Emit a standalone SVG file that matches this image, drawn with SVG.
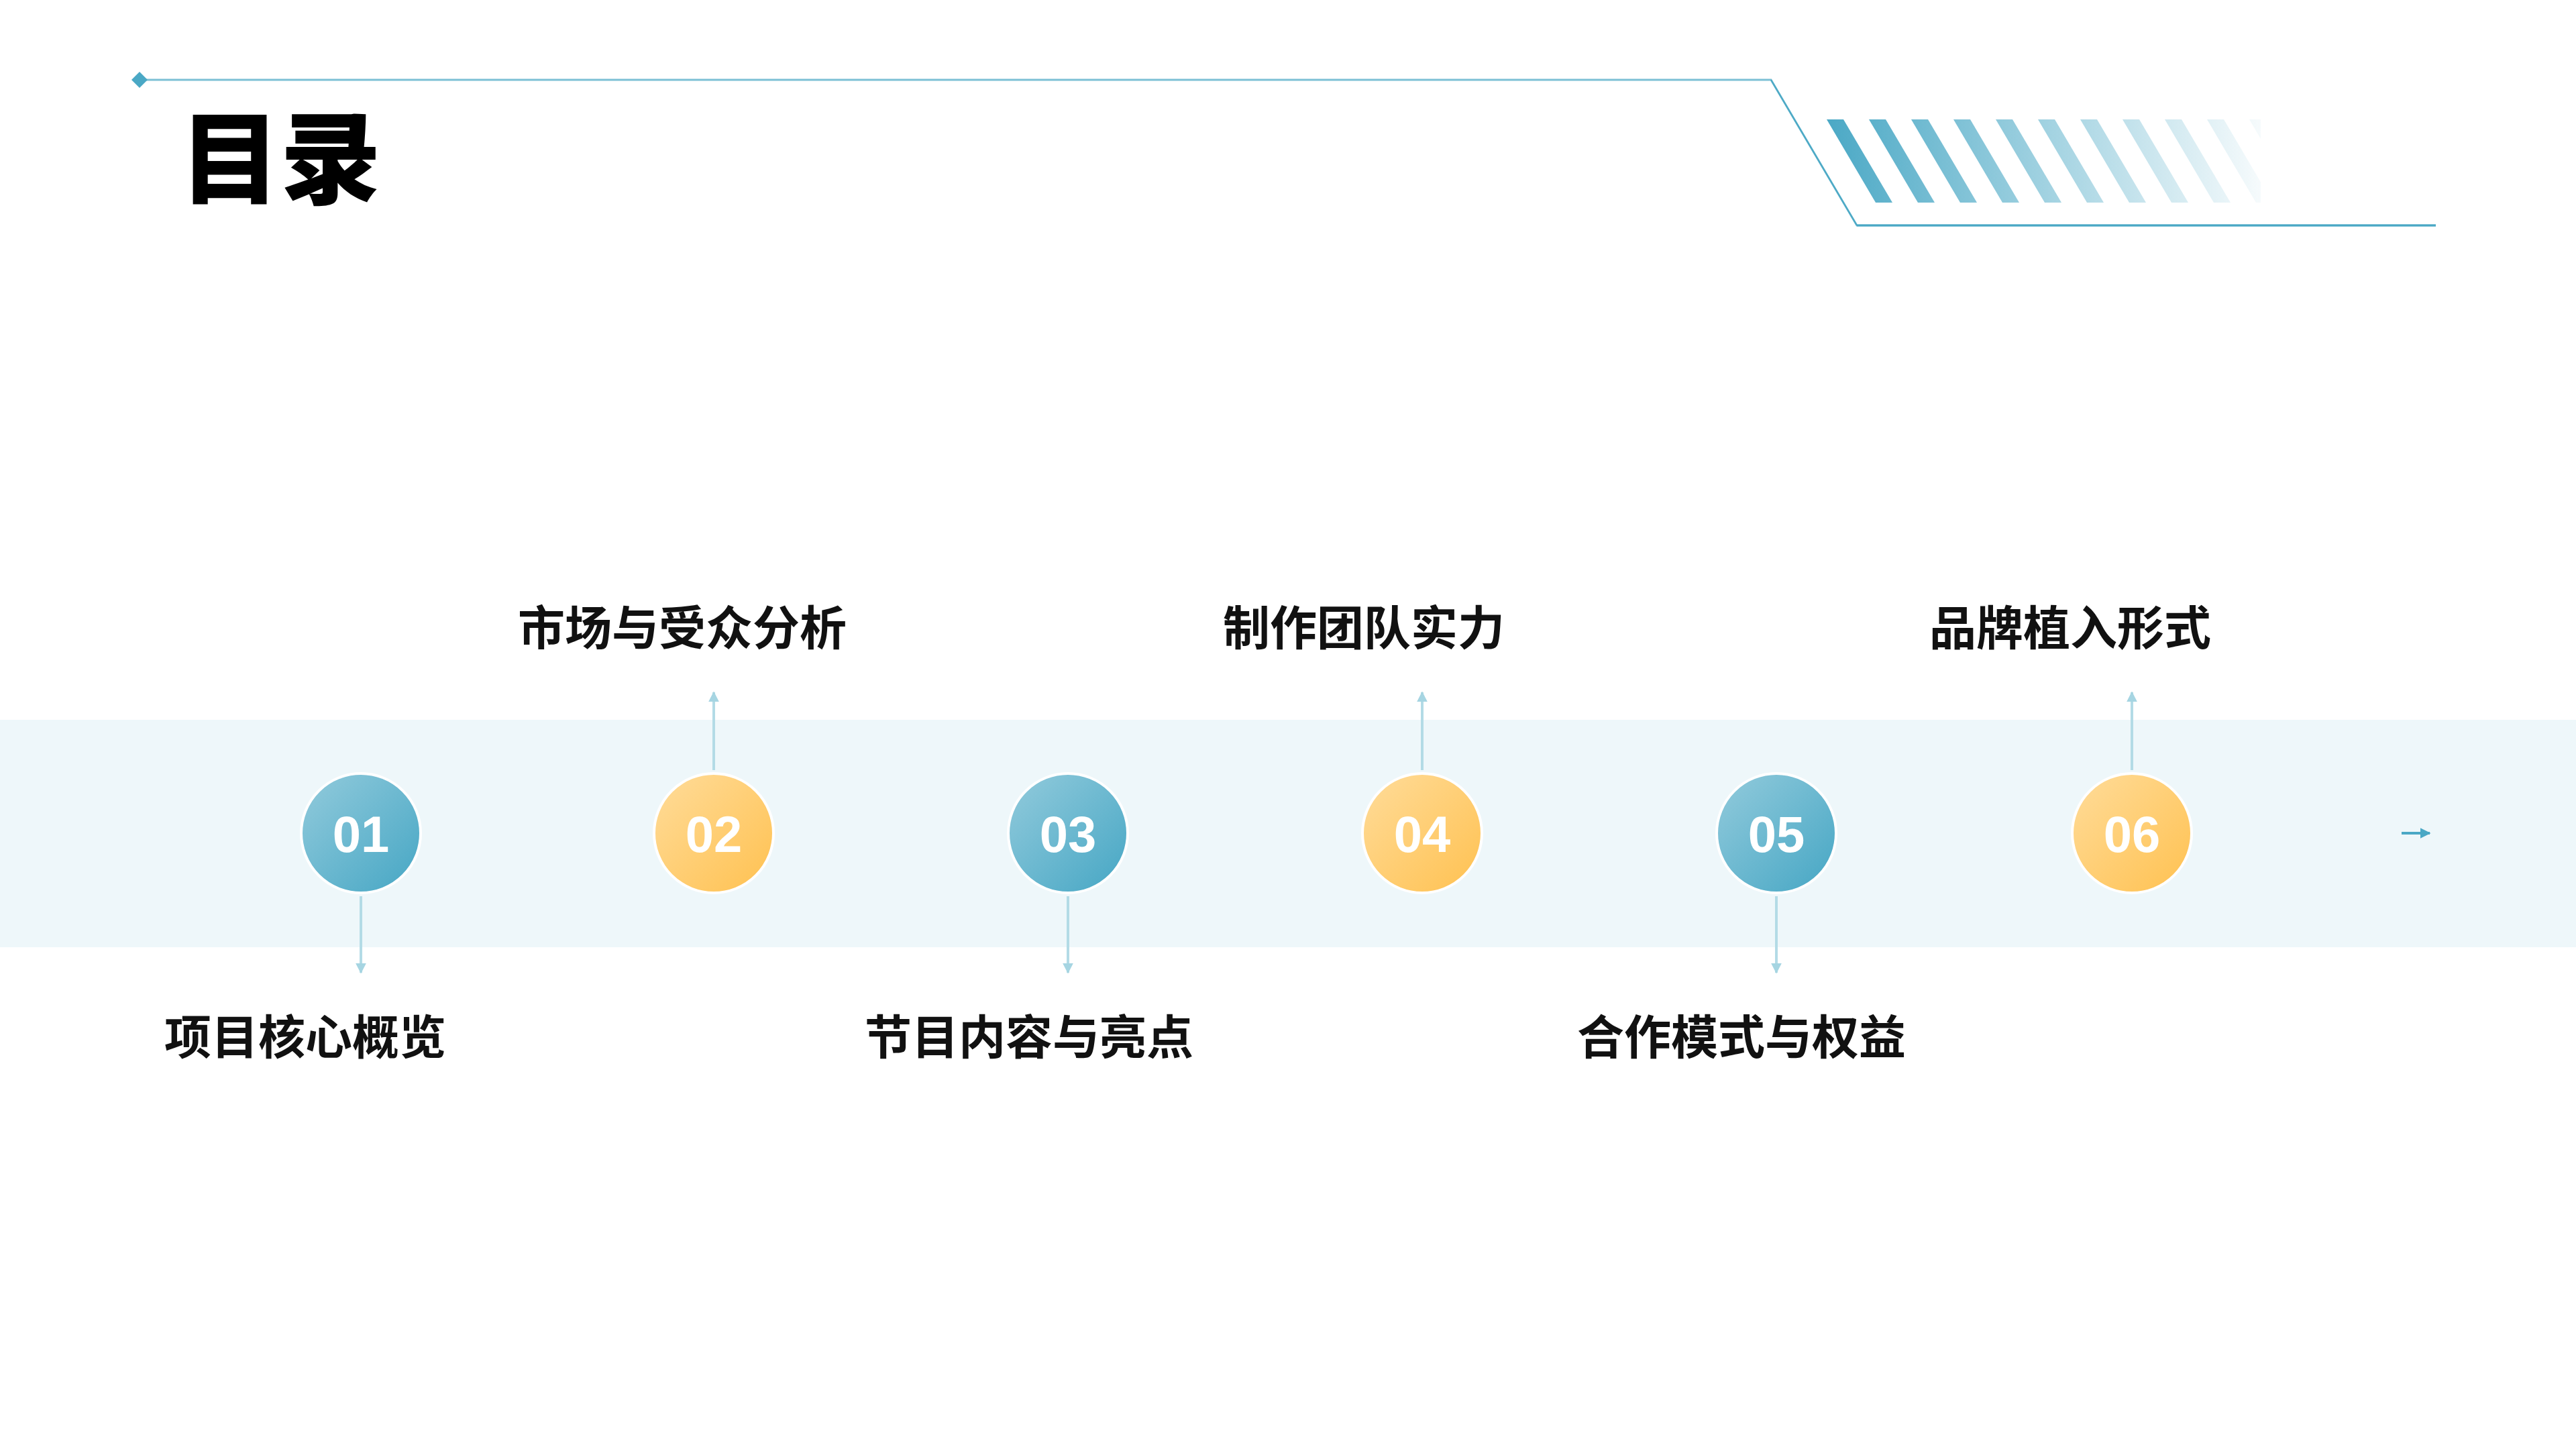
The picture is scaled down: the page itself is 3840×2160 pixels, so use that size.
<svg xmlns="http://www.w3.org/2000/svg" width="3840" height="2160" viewBox="0 0 3840 2160">
<defs>
<linearGradient id="gb" x1="0" y1="0" x2="1" y2="1"><stop offset="0" stop-color="#93cbdc"/><stop offset="1" stop-color="#45a6c4"/></linearGradient>
<linearGradient id="go" x1="0" y1="0" x2="1" y2="1"><stop offset="0" stop-color="#ffdc9a"/><stop offset="1" stop-color="#ffc150"/></linearGradient>
<linearGradient id="gl" x1="0" y1="0" x2="1" y2="0"><stop offset="0" stop-color="#e0f0f5"/><stop offset="1" stop-color="#a3d3e1"/></linearGradient>
<linearGradient id="gs" gradientUnits="userSpaceOnUse" x1="2720" y1="0" x2="3370" y2="0"><stop offset="0" stop-color="#4aa8c5"/><stop offset="1" stop-color="#4aa8c5" stop-opacity="0.05"/></linearGradient>
<clipPath id="cs"><rect x="2700" y="170" width="670" height="140"/></clipPath>
<marker id="ah" viewBox="0 0 10 10" refX="9" refY="5" markerWidth="4" markerHeight="4" orient="auto"><path d="M0,0 L10,5 L0,10 Z" fill="#a6d5e2"/></marker>
<marker id="ah2" viewBox="0 0 10 10" refX="9" refY="5" markerWidth="4" markerHeight="4" orient="auto"><path d="M0,0 L10,5 L0,10 Z" fill="#4aa8c5"/></marker>
</defs>
<style>
.lbl{font-family:"Noto Sans CJK SC","Noto Sans",sans-serif;font-weight:bold;font-size:70px;fill:#111;text-anchor:middle}
.num{font-family:"Liberation Sans",Arial,sans-serif;font-weight:bold;font-size:76px;fill:#fff;text-anchor:middle}
.v{stroke:#b3dbe6;stroke-width:4;fill:none;marker-end:url(#ah)}
</style>
<rect width="3840" height="2160" fill="#fff"/>
<g id="header">
<path d="M208,119 H2640 L2768,336 H3631" fill="none" stroke="#7cc0d5" stroke-width="3"/>
<path d="M2640,119 L2768,336" fill="none" stroke="#4aa8c5" stroke-width="2"/>
<path d="M2768,336 H3631" fill="none" stroke="#4aa8c5" stroke-width="3"/>
<path d="M196,119 L208,107 L220,119 L208,131 Z" fill="#4aa8c5"/>
<g clip-path="url(#cs)" fill="url(#gs)">
<path d="M2723,178 h25 l73,124 h-25 Z"/><path d="M2786,178 h25 l73,124 h-25 Z"/><path d="M2849,178 h25 l73,124 h-25 Z"/><path d="M2912,178 h25 l73,124 h-25 Z"/><path d="M2975,178 h25 l73,124 h-25 Z"/><path d="M3038,178 h25 l73,124 h-25 Z"/><path d="M3101,178 h25 l73,124 h-25 Z"/><path d="M3164,178 h25 l73,124 h-25 Z"/><path d="M3227,178 h25 l73,124 h-25 Z"/><path d="M3290,178 h25 l73,124 h-25 Z"/><path d="M3353,178 h25 l73,124 h-25 Z"/>
</g>
<text x="268" y="292" font-family="Noto Sans CJK SC,sans-serif" font-weight="900" font-size="150" fill="#000">目录</text>
</g>
<rect x="0" y="1073" width="3840" height="339" fill="#eef7fa"/>
<g id="connectors">
<line x1="626" y1="1242" x2="3620" y2="1242" stroke="url(#gl)" stroke-width="5"/>
<line x1="3580" y1="1242" x2="3622" y2="1242" stroke="#4aa8c5" stroke-width="4" marker-end="url(#ah2)"/>
<line class="v" x1="538" y1="1336" x2="538" y2="1450"/>
<line class="v" x1="1064" y1="1148" x2="1064" y2="1032"/>
<line class="v" x1="1592" y1="1336" x2="1592" y2="1450"/>
<line class="v" x1="2120" y1="1148" x2="2120" y2="1032"/>
<line class="v" x1="2648" y1="1336" x2="2648" y2="1450"/>
<line class="v" x1="3178" y1="1148" x2="3178" y2="1032"/>
</g>
<g id="n1"><circle cx="538" cy="1242" r="89" fill="url(#gb)" stroke="#fff" stroke-width="4"/><text class="num" x="538" y="1270">01</text><text class="lbl" x="455" y="1572">项目核心概览</text></g>
<g id="n2"><circle cx="1064" cy="1242" r="89" fill="url(#go)" stroke="#fff" stroke-width="4"/><text class="num" x="1064" y="1270">02</text><text class="lbl" x="1017" y="962">市场与受众分析</text></g>
<g id="n3"><circle cx="1592" cy="1242" r="89" fill="url(#gb)" stroke="#fff" stroke-width="4"/><text class="num" x="1592" y="1270">03</text><text class="lbl" x="1534" y="1572">节目内容与亮点</text></g>
<g id="n4"><circle cx="2120" cy="1242" r="89" fill="url(#go)" stroke="#fff" stroke-width="4"/><text class="num" x="2120" y="1270">04</text><text class="lbl" x="2033" y="962">制作团队实力</text></g>
<g id="n5"><circle cx="2648" cy="1242" r="89" fill="url(#gb)" stroke="#fff" stroke-width="4"/><text class="num" x="2648" y="1270">05</text><text class="lbl" x="2596" y="1572">合作模式与权益</text></g>
<g id="n6"><circle cx="3178" cy="1242" r="89" fill="url(#go)" stroke="#fff" stroke-width="4"/><text class="num" x="3178" y="1270">06</text><text class="lbl" x="3086" y="962">品牌植入形式</text></g>
</svg>
